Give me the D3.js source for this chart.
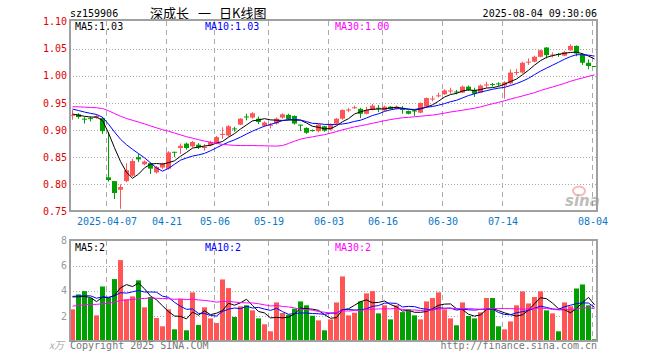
<!DOCTYPE html>
<html><head><meta charset="utf-8">
<script src="https://cdn.jsdelivr.net/npm/d3@7"></script>
<style>body{margin:0;background:#fff;} svg{display:block;}</style>
</head><body>
<svg id="c" width="660" height="360"></svg>
<script>
const code = "sz159906";
const title = "深成长 一 日K线图";
const stamp = "2025-08-04 09:30:06";
const dates = ["2025-03-27","2025-03-28","2025-03-31","2025-04-01","2025-04-02","2025-04-03","2025-04-07","2025-04-08","2025-04-09","2025-04-10","2025-04-11","2025-04-14","2025-04-15","2025-04-16","2025-04-17","2025-04-18","2025-04-21","2025-04-22","2025-04-23","2025-04-24","2025-04-25","2025-04-28","2025-04-29","2025-04-30","2025-05-06","2025-05-07","2025-05-08","2025-05-09","2025-05-12","2025-05-13","2025-05-14","2025-05-15","2025-05-16","2025-05-19","2025-05-20","2025-05-21","2025-05-22","2025-05-23","2025-05-26","2025-05-27","2025-05-28","2025-05-29","2025-05-30","2025-06-03","2025-06-04","2025-06-05","2025-06-06","2025-06-09","2025-06-10","2025-06-11","2025-06-12","2025-06-13","2025-06-16","2025-06-17","2025-06-18","2025-06-19","2025-06-20","2025-06-23","2025-06-24","2025-06-25","2025-06-26","2025-06-27","2025-06-30","2025-07-01","2025-07-02","2025-07-03","2025-07-04","2025-07-07","2025-07-08","2025-07-09","2025-07-10","2025-07-11","2025-07-14","2025-07-15","2025-07-16","2025-07-17","2025-07-18","2025-07-21","2025-07-22","2025-07-23","2025-07-24","2025-07-25","2025-07-28","2025-07-29","2025-07-30","2025-07-31","2025-08-01","2025-08-04"];
const open  = [0.927,0.929,0.921,0.922,0.923,0.922,0.813,0.806,0.790,0.806,0.816,0.850,0.837,0.839,0.822,0.831,0.829,0.860,0.867,0.875,0.870,0.873,0.867,0.872,0.876,0.891,0.890,0.903,0.910,0.925,0.923,0.921,0.908,0.908,0.912,0.923,0.928,0.926,0.910,0.904,0.900,0.898,0.907,0.901,0.912,0.921,0.936,0.941,0.939,0.930,0.937,0.941,0.936,0.943,0.939,0.939,0.935,0.936,0.932,0.943,0.957,0.963,0.966,0.972,0.971,0.969,0.980,0.974,0.969,0.983,0.985,0.986,0.982,0.986,1.006,1.006,1.025,1.026,1.035,1.052,1.038,1.040,1.037,1.047,1.055,1.039,1.024,1.018];
const high  = [0.937,0.931,0.924,0.925,0.929,0.924,0.896,0.806,0.800,0.839,0.847,0.856,0.844,0.840,0.834,0.840,0.861,0.860,0.875,0.877,0.880,0.876,0.874,0.880,0.889,0.905,0.909,0.906,0.922,0.930,0.933,0.925,0.916,0.913,0.923,0.931,0.930,0.927,0.910,0.905,0.901,0.911,0.908,0.912,0.922,0.938,0.941,0.945,0.941,0.943,0.948,0.946,0.945,0.944,0.945,0.944,0.936,0.937,0.951,0.960,0.963,0.969,0.975,0.978,0.974,0.982,0.982,0.978,0.984,0.989,0.987,0.988,0.990,1.012,1.013,1.026,1.032,1.037,1.048,1.053,1.043,1.042,1.046,1.058,1.056,1.041,1.030,1.018];
const low   = [0.919,0.921,0.912,0.916,0.921,0.893,0.805,0.773,0.755,0.804,0.814,0.841,0.835,0.819,0.820,0.828,0.827,0.850,0.856,0.864,0.868,0.865,0.862,0.870,0.874,0.884,0.888,0.897,0.909,0.918,0.921,0.911,0.906,0.903,0.910,0.921,0.918,0.910,0.898,0.893,0.897,0.896,0.897,0.899,0.910,0.919,0.933,0.939,0.922,0.929,0.936,0.933,0.935,0.938,0.938,0.930,0.929,0.926,0.931,0.942,0.953,0.960,0.965,0.967,0.966,0.968,0.972,0.961,0.968,0.978,0.980,0.981,0.958,0.984,1.001,1.004,1.020,1.025,1.034,1.032,1.034,1.035,1.036,1.046,1.036,1.020,1.012,1.016];
const close = [0.928,0.924,0.920,0.921,0.926,0.898,0.808,0.784,0.795,0.826,0.843,0.846,0.842,0.829,0.832,0.838,0.859,0.859,0.871,0.867,0.878,0.868,0.869,0.878,0.887,0.893,0.907,0.902,0.921,0.924,0.931,0.915,0.914,0.910,0.921,0.929,0.920,0.912,0.909,0.895,0.899,0.910,0.899,0.910,0.921,0.937,0.938,0.942,0.930,0.937,0.945,0.940,0.943,0.939,0.943,0.937,0.930,0.935,0.950,0.959,0.958,0.964,0.973,0.973,0.970,0.980,0.974,0.967,0.982,0.984,0.984,0.985,0.988,1.006,1.007,1.024,1.026,1.035,1.047,1.038,1.039,1.039,1.044,1.055,1.041,1.024,1.018,1.017];
const volume = [2.52,3.71,3.97,3.42,2.04,4.34,3.42,4.93,6.44,3.31,3.55,4.83,2.68,3.50,1.83,1.17,2.52,0.93,3.34,0.85,3.87,1.28,2.68,1.80,1.43,4.90,4.21,1.91,2.76,2.84,2.44,1.80,1.33,0.77,3.07,2.23,2.09,2.57,3.15,2.84,2.01,1.64,0.85,1.72,3.07,5.14,2.04,2.25,3.15,3.79,3.97,2.20,2.84,1.72,2.84,2.30,2.52,2.04,1.72,3.15,3.42,3.87,2.52,1.80,1.25,3.07,1.99,1.80,2.28,3.42,3.42,1.17,0.93,1.56,2.84,3.95,2.99,3.50,3.95,2.44,2.20,0.77,3.07,2.76,4.18,4.50,2.84,0.14];
// estimated sessions before the visible window (only feed the moving averages)
const priorCloses = [0.930,0.935,0.940,0.943,0.937,0.933,0.939,0.945,0.949,0.943,0.940,0.945,0.942,0.938,0.941,0.943,0.960,0.972,0.968,0.958,0.952,0.948,0.945,0.946,0.949,0.935,0.930,0.928,0.927];
const priorVolumes = [2.1,2.6,2.3,2.0,2.8,2.5,2.2,2.4,1.9,2.7,2.3,2.6,2.2,2.5,2.0,2.9,2.4,2.3,2.6,2.5,3.4,3.8,3.5,3.9,3.4,3.6,3.9,3.8,3.7];
const priceTicks = [1.10,1.05,1.00,0.95,0.90,0.85,0.80,0.75];
const priceGrid = [1.05,1.00,0.95,0.90,0.85,0.80];
const volumeTicks = [8,6,4,2];
const volumeGrid = [6,4,2];
const dateTicks = ["2025-04-07","2025-04-21","2025-05-06","2025-05-19","2025-06-03","2025-06-16","2025-06-30","2025-07-14","2025-08-04"];
const dateTickLabels = ["2025-04-07","04-21","05-06","05-19","06-03","06-16","06-30","07-14","08-04"];
const maPeriods = [5,10,30];
const maColors = ["#000000","#0000ff","#ff00ff"];

const RED = "#ff5555", GREEN = "#00a000", GRID = "#aaaaaa";
const MONO = "'DejaVu Sans Mono', monospace";
const svg = d3.select("#c");
const n = dates.length;
const x = d3.scaleLinear().domain([0, n - 1]).range([72.5, 72.5 + 6 * (n - 1)]);
const yP = d3.scaleLinear().domain([0.75, 1.10]).range([211.5, 21.5]);
const yV = d3.scaleLinear().domain([0, 8]).range([341, 240.5]);
const L = 70, R = 597;

function ma(series, prior, p) {
  const all = prior.concat(series);
  const off = prior.length;
  return series.map((_, i) => d3.mean(all.slice(off + i - p + 1, off + i + 1)));
}
const pMA = maPeriods.map(p => ma(close, priorCloses, p));
const vMA = maPeriods.map(p => ma(volume, priorVolumes, p));
const trunc = (v, d) => (Math.floor(v * Math.pow(10, d) + 1e-9) / Math.pow(10, d)).toFixed(d);

// header
svg.append("text").attr("x", 70).attr("y", 17).attr("font-family", MONO).attr("font-size", 10).attr("fill", "#000").text(code);
const tParts = title.split(" ");
const tX = [150, 198, 219];
tParts.forEach((t, k) => svg.append("text").attr("x", tX[k]).attr("y", 17.5).attr("font-family", "'Noto Sans CJK SC', sans-serif").attr("font-size", 13).attr("fill", "#000").text(t));
svg.append("text").attr("x", 597).attr("y", 17).attr("text-anchor", "end").attr("font-family", MONO).attr("font-size", 10).attr("fill", "#000").text(stamp);

// grids
const idx = dateTicks.map(d => dates.indexOf(d));
const gg = svg.append("g");
[[21, 211], [241, 341]].forEach(([a, b]) => {
  gg.selectAll(null).data(idx).enter().append("line")
    .attr("x1", i => Math.round(x(i)) - 2.5).attr("x2", i => Math.round(x(i)) - 2.5)
    .attr("y1", a).attr("y2", b).attr("stroke", GRID).attr("stroke-width", 1).attr("stroke-dasharray", "5,4");
});
gg.selectAll(null).data(priceGrid).enter().append("line")
  .attr("x1", L).attr("x2", R).attr("y1", d => Math.round(yP(d)) + 0.5).attr("y2", d => Math.round(yP(d)) + 0.5)
  .attr("stroke", GRID).attr("stroke-dasharray", "1,2");
gg.selectAll(null).data(volumeGrid).enter().append("line")
  .attr("x1", L).attr("x2", R).attr("y1", d => Math.round(yV(d)) + 0.5).attr("y2", d => Math.round(yV(d)) + 0.5)
  .attr("stroke", GRID).attr("stroke-dasharray", "1,2");

// candles
const cg = svg.append("g");
const ii = d3.range(n);
const col = i => close[i] >= open[i] ? RED : GREEN;
cg.selectAll(".w").data(ii).enter().append("line")
  .attr("x1", i => x(i)).attr("x2", i => x(i))
  .attr("y1", i => yP(high[i])).attr("y2", i => yP(low[i]))
  .attr("stroke", col).attr("stroke-width", 1);
cg.selectAll(".b").data(ii).enter().append("rect")
  .attr("x", i => x(i) - 2.5).attr("width", 5)
  .attr("y", i => Math.min(yP(open[i]), yP(close[i])))
  .attr("height", i => Math.max(1, Math.abs(yP(open[i]) - yP(close[i]))))
  .attr("fill", col);

// volume bars
svg.append("g").selectAll("rect").data(ii).enter().append("rect")
  .attr("x", i => x(i) - 2.5).attr("width", 5)
  .attr("y", i => yV(volume[i])).attr("height", i => yV(0) - yV(volume[i]))
  .attr("fill", col);

// MA lines
const lineP = d3.line().x((d, i) => x(i)).y(d => yP(d));
const lineV = d3.line().x((d, i) => x(i)).y(d => yV(d));
pMA.forEach((s, k) => svg.append("path").attr("d", lineP(s)).attr("fill", "none").attr("stroke", maColors[k]).attr("stroke-width", 1));
vMA.forEach((s, k) => svg.append("path").attr("d", lineV(s)).attr("fill", "none").attr("stroke", maColors[k]).attr("stroke-width", 1));

// sina watermark
const wm = svg.append("g").attr("opacity", 0.55);
wm.append("ellipse").attr("cx", 579).attr("cy", 191).attr("rx", 6).attr("ry", 4.5).attr("fill", "none").attr("stroke", "#f08080").attr("stroke-width", 2);
wm.append("text").attr("x", 565).attr("y", 206).attr("font-family", "'DejaVu Sans', sans-serif").attr("font-weight", "bold").attr("font-style", "italic").attr("font-size", 15).attr("fill", "#888").text("sina");

// frames
[[20, 211], [240, 341]].forEach(([a, b]) => svg.append("rect").attr("x", L).attr("y", a).attr("width", R - L).attr("height", b - a)
  .attr("fill", "none").attr("stroke", "#a0a0a0").attr("stroke-width", 2));

// MA labels
const labX = [75, 205, 335];
maPeriods.forEach((p, k) => {
  svg.append("text").attr("x", labX[k]).attr("y", 30).attr("font-family", MONO).attr("font-size", 10).attr("fill", maColors[k])
    .text("MA" + p + ":" + trunc(pMA[k][n - 1], 2));
  svg.append("text").attr("x", labX[k]).attr("y", 251).attr("font-family", MONO).attr("font-size", 10).attr("fill", maColors[k])
    .text("MA" + p + ":" + Math.floor(vMA[k][n - 1]));
});

// axes
const ap = svg.append("g").attr("transform", "translate(67,0)")
  .call(d3.axisLeft(yP).tickValues(priceTicks).tickFormat(d3.format(".2f")).tickSize(0).tickPadding(0));
ap.select(".domain").remove();
ap.selectAll("text").attr("font-family", MONO).attr("font-size", 10).attr("fill", "#e00000");
const av = svg.append("g").attr("transform", "translate(67,0)")
  .call(d3.axisLeft(yV).tickValues(volumeTicks).tickFormat(d3.format("d")).tickSize(0).tickPadding(0));
av.select(".domain").remove();
av.selectAll("text").attr("font-family", MONO).attr("font-size", 10).attr("fill", "#999");
const ad = svg.append("g").attr("transform", "translate(-2,212)")
  .call(d3.axisBottom(x).tickValues(idx).tickFormat((d, k) => dateTickLabels[k]).tickSize(0).tickPadding(6));
ad.select(".domain").remove();
ad.selectAll("text").attr("font-family", MONO).attr("font-size", 10).attr("fill", "#0a78c8");

svg.append("text").attr("x", 64).attr("y", 349).attr("text-anchor", "end").attr("font-family", "'Noto Sans CJK SC', sans-serif").attr("font-style", "italic").attr("font-size", 10).attr("fill", "#aaa").text("x万");
svg.append("text").attr("x", 70).attr("y", 349).attr("font-family", MONO).attr("font-size", 10).attr("fill", "#777").text("Copyright 2025 SINA.COM");
svg.append("text").attr("x", 597).attr("y", 349).attr("text-anchor", "end").attr("font-family", MONO).attr("font-size", 10).attr("fill", "#777").text("http://finance.sina.com.cn");
</script>
</body></html>
